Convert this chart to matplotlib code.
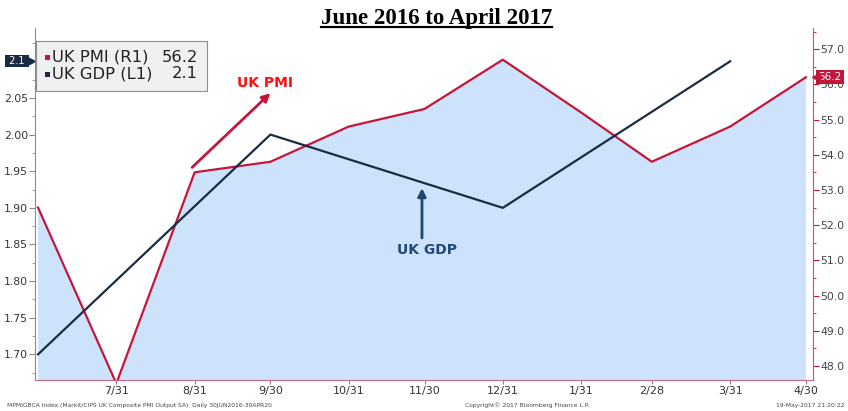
import numpy as np
import matplotlib
matplotlib.use('Agg')
import matplotlib.pyplot as plt
import matplotlib.dates as mdates
import matplotlib.transforms as mtransforms
from matplotlib.ticker import MultipleLocator, FixedLocator
from matplotlib.lines import Line2D
from matplotlib.patches import Rectangle

# Composite PMI, Monatsende (rechte Achse)
pmi_dates = np.array(['2016-06-30', '2016-07-31', '2016-08-31', '2016-09-30', '2016-10-31',
                      '2016-11-30', '2016-12-31', '2017-01-31', '2017-02-28', '2017-03-31',
                      '2017-04-30'], dtype='datetime64[D]')
pmi_values = [52.5, 47.5, 53.5, 53.8, 54.8, 55.3, 56.7, 55.2, 53.8, 54.8, 56.2]

# BIP-Wachstum, Quartalsende (linke Achse)
gdp_dates = np.array(['2016-06-30', '2016-09-30', '2016-12-31', '2017-03-31'], dtype='datetime64[D]')
gdp_values = [1.70, 2.00, 1.90, 2.10]

tick_dates = np.array(['2016-07-31', '2016-08-31', '2016-09-30', '2016-10-31', '2016-11-30',
                       '2016-12-31', '2017-01-31', '2017-02-28', '2017-03-31', '2017-04-30'],
                      dtype='datetime64[D]')
tick_labels = ['7/31', '8/31', '9/30', '10/31', '11/30', '12/31', '1/31', '2/28', '3/31', '4/30']

PMI_RED = '#c3173a'
GDP_NAVY = '#1a2c45'
FILL = '#cce3fb'
W, H = 848, 411


def fx(px):
    return px / W


def fy(py):
    return 1 - py / H


def dnum(s):
    return mdates.date2num(np.datetime64(s))


fig = plt.figure(figsize=(W / 100, H / 100), dpi=100)
ax = fig.add_axes([fx(35), fy(380), (813 - 35) / W, (380 - 28) / H])
ax2 = ax.twinx()

# Flaeche + Linie PMI
ax2.fill_between(pmi_dates, pmi_values, 40, color=FILL, lw=0)
ax2.plot(pmi_dates, pmi_values, color=PMI_RED, lw=1.6)
ax.plot(gdp_dates, gdp_values, color=GDP_NAVY, lw=1.6)
ax.set_zorder(ax2.get_zorder() + 1)
ax.patch.set_visible(False)

ax.set_xlim(dnum('2016-06-30') - 1.2, dnum('2017-04-30') + 2.8)
ax.set_ylim(1.665, 2.1455)
ax2.set_ylim(47.6, 57.6)

# Achsen
ax.xaxis.set_major_locator(FixedLocator(mdates.date2num(tick_dates)))
ax.set_xticklabels(tick_labels)
ax.yaxis.set_major_locator(FixedLocator([1.70, 1.75, 1.80, 1.85, 1.90, 1.95, 2.00, 2.05]))
ax.yaxis.set_minor_locator(MultipleLocator(0.025))
ax.set_yticklabels(['%.2f' % v for v in [1.70, 1.75, 1.80, 1.85, 1.90, 1.95, 2.00, 2.05]])
ax2.yaxis.set_major_locator(MultipleLocator(1.0))
ax2.yaxis.set_minor_locator(MultipleLocator(0.5))
ax2.yaxis.set_major_formatter(matplotlib.ticker.FormatStrFormatter('%.1f'))

for a in (ax, ax2):
    a.spines['top'].set_visible(False)
ax.spines['left'].set_color('#8a8a8a')
ax.spines['bottom'].set_color('#c86a88')
ax2.spines['right'].set_color('#c85474')
ax2.spines['left'].set_visible(False)
ax2.spines['bottom'].set_visible(False)
ax.spines['right'].set_visible(False)

ax.tick_params(axis='x', length=3, color='#c86a88', labelsize=8, labelcolor='#333333', pad=1)
ax.tick_params(axis='y', which='major', length=4, color='#8a8a8a', labelsize=7.8, labelcolor='#333333', pad=1)
ax.tick_params(axis='y', which='minor', length=2, color='#8a8a8a')
ax2.tick_params(axis='y', which='major', length=4, color=PMI_RED, labelsize=7.8, labelcolor='#444444', pad=1)
ax2.tick_params(axis='y', which='minor', length=2, color=PMI_RED)

# Pfeile und Beschriftungen
ax2.annotate('', xy=(dnum('2016-09-30'), 55.75), xytext=(dnum('2016-08-30'), 53.64),
             arrowprops=dict(arrowstyle='-|>', color=PMI_RED, lw=2, mutation_scale=12,
                             shrinkA=0, shrinkB=0))
ax2.text(dnum('2016-09-28'), 56.05, 'UK PMI', color='#ff1010', fontweight='bold',
         fontsize=10, ha='center', va='center')
ax.annotate('', xy=(dnum('2016-11-29'), 1.927), xytext=(dnum('2016-11-29'), 1.859),
            arrowprops=dict(arrowstyle='-|>', color='#1d4670', lw=2, mutation_scale=12,
                            shrinkA=0, shrinkB=0))
ax.text(dnum('2016-12-01'), 1.843, 'UK GDP', color='#1f4a78', fontweight='bold',
        fontsize=10, ha='center', va='center')

# Wert-Markierungen an den Achsen
trans_l = mtransforms.blended_transform_factory(ax.transAxes, ax.transData)
ax.annotate(' %.1f ' % gdp_values[-1], xy=(0, gdp_values[-1]), xycoords=trans_l, xytext=(-5, 0),
            textcoords='offset points', ha='right', va='center', fontsize=7, color='white',
            bbox=dict(boxstyle='square,pad=0.1', fc=GDP_NAVY, ec='none'), annotation_clip=False)
ax.plot([0], [gdp_values[-1]], marker='>', ms=6, color=GDP_NAVY, clip_on=False,
        transform=trans_l + mtransforms.ScaledTranslation(-3 / 72, 0, fig.dpi_scale_trans))

trans_r = mtransforms.blended_transform_factory(ax2.transAxes, ax2.transData)
ax2.annotate('%.1f' % pmi_values[-1], xy=(1, pmi_values[-1]), xycoords=trans_r, xytext=(4, 0),
             textcoords='offset points', ha='left', va='center', fontsize=7.5, color='white',
             bbox=dict(boxstyle='square,pad=0.2', fc=PMI_RED, ec='none'), annotation_clip=False,
             zorder=10)
ax2.plot([1], [pmi_values[-1]], marker='<', ms=6, color=PMI_RED, clip_on=False, zorder=10,
         transform=trans_r + mtransforms.ScaledTranslation(2.5 / 72, 0, fig.dpi_scale_trans))

# Legende
fig.add_artist(Rectangle((fx(36), fy(91)), 171 / W, 50 / H, transform=fig.transFigure,
                         fc='#f0f0f0', ec='#8f8f8f', lw=0.8, zorder=5))
fig.add_artist(Rectangle((fx(45), fy(60)), 5 / W, 5 / H, transform=fig.transFigure,
                         fc=PMI_RED, ec='none', zorder=6))
fig.add_artist(Rectangle((fx(45), fy(77)), 5 / W, 5 / H, transform=fig.transFigure,
                         fc=GDP_NAVY, ec='none', zorder=6))
fig.text(fx(52), fy(57), 'UK PMI (R1)', fontsize=11.8, va='center', color='#222222', zorder=6)
fig.text(fx(52), fy(74), 'UK GDP (L1)', fontsize=11.8, va='center', color='#222222', zorder=6)
fig.text(fx(198), fy(57), '%.1f' % pmi_values[-1], fontsize=11.8, va='center', ha='right',
         color='#222222', zorder=6)
fig.text(fx(198), fy(74), '%.1f' % gdp_values[-1], fontsize=11.8, va='center', ha='right',
         color='#222222', zorder=6)

# Titel mit Unterstreichung
title = fig.text(fx(436.5), fy(24), 'June 2016 to April 2017', family='Liberation Serif',
                 fontweight='bold', fontsize=16.5, ha='center', va='baseline')
fig.canvas.draw()
bb = title.get_window_extent()
fig.add_artist(Line2D([bb.x0 / W, bb.x1 / W], [fy(27.5), fy(27.5)], transform=fig.transFigure,
                      color='black', lw=1.6))

# Fusszeile
fig.text(fx(7), fy(405), 'MPMIGBCA Index (Markit/CIPS UK Composite PMI Output SA)  Daily 30JUN2016-30APR20',
         fontsize=4.3, color='#444444', va='center')
fig.text(fx(527), fy(405), 'Copyright\u00a9 2017 Bloomberg Finance L.P.', fontsize=4.3,
         color='#444444', va='center', ha='center')
fig.text(fx(845), fy(405), '19-May-2017 21:20:22', fontsize=4.3, color='#444444',
         va='center', ha='right')

fig.savefig('out.png', dpi=100)
